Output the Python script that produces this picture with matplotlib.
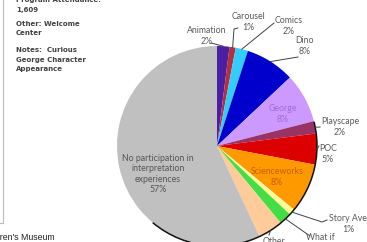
import matplotlib.pyplot as plt
import matplotlib.patches as mpatches
from matplotlib.lines import Line2D
import numpy as np

# slices, clockwise from 12 o'clock
categories = ['Animation', 'Carousel', 'Comics', 'Dino', 'George', 'Playscape', 'POC',
              'Scienceworks', 'Story Ave', 'What if', 'Other',
              'No participation in\ninterpretation\nexperiences']
values = [2, 1, 2, 8, 8, 2, 5, 8, 1, 2, 4, 57]
colors = ['#4A1FA6', '#B3303C', '#33CCFF', '#0000CC', '#CC99FF', '#993366', '#DD0000',
          '#FF9900', '#FFFF99', '#44DD44', '#FFCC99', '#C0C0C0']

notes = ['Program Attendance:', '1,609', 'Other: Welcome', 'Center',
         'Notes:  Curious', 'George Character', 'Appearance']
notes_y = [0, 10, 24, 33, 50, 60, 69]

W, H = 367, 242
fig = plt.figure(figsize=(W / 100, H / 100), dpi=100)

# pie: centre (217,146) px, radius 100 px
cx, cy, r = 217, 146, 100
ax = fig.add_axes([(cx - r) / W, (H - cy - r) / H, 2 * r / W, 2 * r / H])

wedges, _ = ax.pie(values, colors=colors, startangle=90, counterclock=False,
                   radius=1, wedgeprops=dict(linewidth=0))
ax.set_xlim(-1, 1)
ax.set_ylim(-1, 1)
ax.set_aspect('equal')
ax.axis('off')
for w in wedges:
    w.set_clip_on(False)
ax.add_patch(mpatches.Arc((0, 0), 2.0, 2.0, theta1=-130, theta2=14,
                          color='#111111', lw=1.1, clip_on=False))

font = 'Lato'
lab_col = '#595959'

# label placement (data coords) and leader line path
layout = {
    'Animation':    ((-0.10, 1.10), [(-0.06, 1.03)]),
    'Carousel':     ((0.31, 1.24), [(0.17, 1.17), (0.21, 1.18)]),
    'Comics':       ((0.72, 1.20), [(0.57, 1.23)]),
    'Dino':         ((0.88, 1.00), [(0.81, 0.89)]),
    'Playscape':    ((1.23, 0.19), [(1.03, 0.19)]),
    'POC':          ((1.11, -0.08), [(1.02, 0.0)]),
    'Story Ave':    ((1.31, -0.78), [(1.05, -0.76), (1.10, -0.74)]),
    'What if':      ((1.03, -0.97), [(0.93, -0.90)]),
    'Other':        ((0.57, -1.01), [(0.52, -0.89)]),
}
inside = {
    'George': ((0.66, 0.32), '#9B6FD8'),
    'Scienceworks': ((0.60, -0.31), '#C65F00'),
    categories[-1]: ((-0.59, -0.28), '#555555'),
}

for w, name, v in zip(wedges, categories, values):
    mid = np.deg2rad((w.theta1 + w.theta2) / 2)
    txt = f'{name}\n{v}%'
    if name in inside:
        (tx, ty), c = inside[name]
        ax.text(tx, ty, txt, ha='center', va='center', fontsize=6.3,
                family=font, color=c, linespacing=1.15, clip_on=False)
        continue
    (tx, ty), path = layout[name]
    ax.text(tx, ty, txt, ha='center', va='center', fontsize=6.3,
            family=font, color=lab_col, linespacing=1.15, clip_on=False)
    pts = [(np.cos(mid), np.sin(mid))] + path
    xs, ys = zip(*pts)
    ax.plot(xs, ys, color='#404040', lw=0.7, clip_on=False)

# left note block
for line, y in zip(notes, notes_y):
    fig.text(16 / W, 1 - y / H, line, ha='left', va='center', fontsize=5.0,
             fontweight='bold', color='#404040', family='DejaVu Sans')

fig.add_artist(Line2D([3 / W, 3 / W], [1, 1 - 223 / H], color='#BBBBBB', lw=0.8))
fig.add_artist(Line2D([0, 3 / W], [1 - 223 / H, 1 - 223 / H], color='#BBBBBB', lw=0.8))
fig.text(55 / W, 1 - 237 / H, "Boston Children's Museum", ha='right', va='center',
         fontsize=6.3, color='#222222', family='Liberation Sans')

fig.savefig('out.png', dpi=100)
